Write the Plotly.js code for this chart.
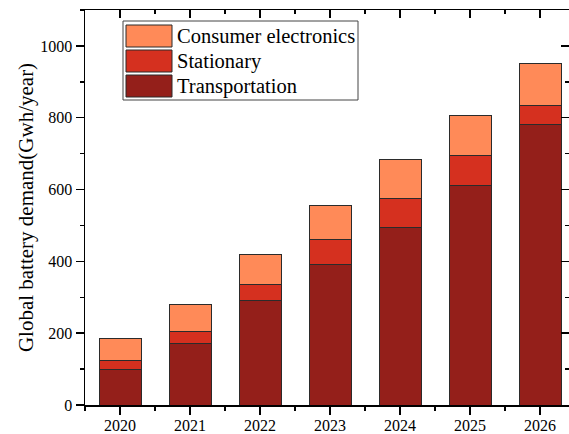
<!DOCTYPE html>
<html>
<head>
<meta charset="utf-8">
<script src="https://cdn.plot.ly/plotly-3.0.1.min.js"></script>
<style>
  html, body { margin: 0; padding: 0; background: #ffffff; }
  #chart { width: 569px; height: 434px; }
</style>
</head>
<body>
<div id="chart"></div>
<script>
// Global battery demand by application, GWh per year
const years = [2020, 2021, 2022, 2023, 2024, 2025, 2026];
const transportation = [100, 170, 290, 390, 495, 610, 780];
const stationary = [25, 35, 45, 70, 80, 85, 55];
const consumerElectronics = [60, 75, 85, 95, 110, 110, 115];

const seriesNames = ['Transportation', 'Stationary', 'Consumer electronics'];
const seriesColors = ['#941f1a', '#d5301f', '#ff8a58'];
const seriesValues = [transportation, stationary, consumerElectronics];

const W = 569, H = 434;
const margin = { l: 85, r: 0, t: 10, b: 29 };
const plotW = W - margin.l - margin.r;
const plotH = H - margin.t - margin.b;
const xRange = [2019.5, 2019.5 + plotW / 70];
const yRange = [0, 1100];
const serif = 'Liberation Serif';

const traces = seriesValues.map((vals, i) => ({
  type: 'bar',
  name: seriesNames[i],
  x: years,
  y: vals,
  width: 0.6,
  marker: { color: seriesColors[i], line: { color: '#2b2b2b', width: 1 } },
  showlegend: false,
  hoverinfo: 'x+y+name'
}));

// pixel position -> paper coordinates of the plot area
const px = x => (x - margin.l) / plotW;
const py = y => (H - margin.b - y) / plotH;

// Legend drawn as large swatches with labels, top row first
const shapes = [{
  type: 'rect', xref: 'paper', yref: 'paper',
  x0: px(123), x1: px(358), y0: py(100), y1: py(21),
  line: { color: '#444', width: 1 }, fillcolor: 'rgba(0,0,0,0)'
}];
const annotations = [];
const legendOrder = [2, 1, 0];
legendOrder.forEach((s, row) => {
  const top = 25 + row * 25;
  shapes.push({
    type: 'rect', xref: 'paper', yref: 'paper',
    x0: px(126), x1: px(172), y0: py(top + 22), y1: py(top),
    fillcolor: seriesColors[s], line: { color: '#2b2b2b', width: 1 }
  });
  annotations.push({
    xref: 'paper', yref: 'paper', x: px(175), y: py(top + 11),
    xanchor: 'left', yanchor: 'middle', showarrow: false,
    text: seriesNames[s],
    font: { family: serif, size: 20.5, color: '#000' }
  });
});

const axisCommon = {
  showgrid: false, zeroline: false,
  showline: true, linecolor: '#000', linewidth: 1.5,
  tickcolor: '#000', tickwidth: 1.5
};

const layout = {
  width: W, height: H,
  margin: margin,
  paper_bgcolor: '#ffffff', plot_bgcolor: '#ffffff',
  barmode: 'stack',
  font: { family: serif, color: '#000' },
  xaxis: Object.assign({}, axisCommon, {
    type: 'linear', range: xRange, dtick: 1, tick0: 2020,
    ticks: 'outside', ticklen: 8, tickformat: 'd',
    ticklabelstandoff: -3,
    tickfont: { family: serif, size: 16, color: '#000' },
    minor: { dtick: 0.5, tick0: 2019.5, ticks: 'outside', ticklen: 4, tickcolor: '#000', tickwidth: 1.5 }
  }),
  yaxis: Object.assign({}, axisCommon, {
    range: yRange, dtick: 200, tick0: 0,
    ticks: 'outside', ticklen: 8,
    tickfont: { family: serif, size: 16, color: '#000' },
    minor: { dtick: 100, ticks: 'outside', ticklen: 4, tickcolor: '#000', tickwidth: 1.5 },
    title: { text: 'Global battery demand(Gwh/year)', font: { family: serif, size: 21, color: '#000' }, standoff: 1 }
  }),
  xaxis2: Object.assign({}, axisCommon, {
    overlaying: 'x', side: 'top', anchor: 'y', range: xRange,
    dtick: 1, tick0: 2020, ticks: 'inside', ticklen: 8, showticklabels: false,
    minor: { dtick: 0.5, tick0: 2019.5, ticks: 'inside', ticklen: 4, tickcolor: '#000', tickwidth: 1.5 }
  }),
  yaxis2: Object.assign({}, axisCommon, {
    overlaying: 'y', side: 'right', anchor: 'x', range: yRange,
    dtick: 200, tick0: 0, ticks: 'inside', ticklen: 8, showticklabels: false,
    minor: { dtick: 100, ticks: 'inside', ticklen: 4, tickcolor: '#000', tickwidth: 1.5 }
  }),
  shapes: shapes,
  annotations: annotations
};

// invisible helper so the mirrored top/right axes are rendered
traces.push({ type: 'scatter', x: [], y: [], xaxis: 'x2', yaxis: 'y2', showlegend: false, hoverinfo: 'skip' });

Plotly.newPlot('chart', traces, layout, { displayModeBar: false, staticPlot: true });
</script>
</body>
</html>
